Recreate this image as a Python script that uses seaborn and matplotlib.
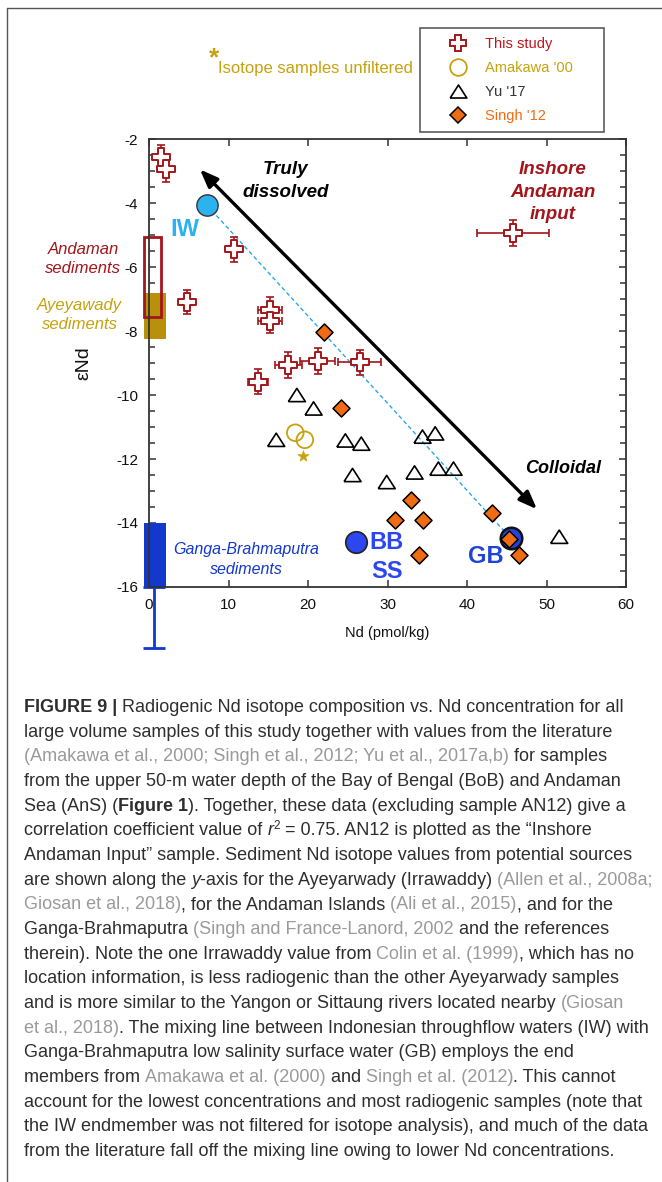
import numpy as np
import pandas as pd
import matplotlib
matplotlib.use("Agg")
import matplotlib.pyplot as plt
import seaborn as sns
from matplotlib.lines import Line2D
from matplotlib.patches import Rectangle
from matplotlib.ticker import MultipleLocator
from matplotlib.font_manager import FontProperties

# ---------------- data ----------------
# This study (large volume samples)
study_nd = [1.5, 2.1, 10.7, 4.8, 15.2, 15.2, 17.5, 21.2, 26.5, 13.7]
study_end = [-2.55, -2.95, -5.45, -7.1, -7.35, -7.68, -9.06, -8.93, -8.98, -9.58]
study_nd_err = [0.5, 0.5, 0.6, 0.5, 1.5, 1.5, 1.7, 2.2, 2.7, 1.25]
study_end_err = [0.35, 0.4, 0.4, 0.38, 0.4, 0.37, 0.4, 0.4, 0.4, 0.4]

# Inshore Andaman input (AN12)
inshore_nd = [45.8]
inshore_end = [-4.94]
inshore_nd_err = [4.5]
inshore_end_err = [0.4]

# Amakawa '00
amakawa_nd = [18.4, 19.6]
amakawa_end = [-11.18, -11.40]
unfiltered_nd = [19.4]
unfiltered_end = [-11.92]

# Yu '17
yu_nd = [18.6, 20.7, 16.0, 24.7, 26.7, 25.6, 29.9, 33.4, 34.4, 36.0, 36.4, 38.3, 51.6]
yu_end = [-10.0, -10.42, -11.4, -11.42, -11.52, -12.5, -12.72, -12.42, -11.3, -11.2, -12.3, -12.3, -14.43]

# Singh '12
singh_nd = [22.0, 24.2, 33.0, 31.0, 34.5, 43.1, 45.3, 46.5, 34.0]
singh_end = [-8.02, -10.4, -13.28, -13.9, -13.9, -13.7, -14.5, -15.0, -15.0]

# End members
endmember_names = ["IW", "BB SS", "GB"]
endmember_nd = [7.3, 26.0, 45.5]
endmember_end = [-4.07, -14.58, -14.48]

# Sediment eNd ranges along the y-axis
sediment_names = ["Andaman", "Ayeyawady", "Ganga-Brahmaputra"]
sediment_lo = [-7.55, -8.25, -16.0]
sediment_hi = [-5.05, -6.8, -14.0]
ganga_whisker_low = -17.9

x_ticks = [0, 10, 20, 30, 40, 50, 60]
y_ticks = [-16, -14, -12, -10, -8, -6, -4, -2]

# ---------------- style ----------------
sns.set_theme(style="ticks")
plt.rcParams["font.family"] = ["Liberation Sans", "DejaVu Sans"]
plt.rcParams["axes.unicode_minus"] = False

W, H = 662, 1182
fig = plt.figure(figsize=(W / 100, H / 100), dpi=100)
fig.patch.set_facecolor("white")
ax = fig.add_axes([149 / W, 1 - 587 / H, 477 / W, 448 / H])
ax.set_facecolor("white")

DARKRED = "#A3161B"
RED = "#C0141B"
GOLD = "#C7A20F"
GOLDFILL = "#B8900C"
ORANGE = "#EF6C12"
LIGHTBLUE = "#2DB2F0"
BLUE = "#2C46F0"
DEEPBLUE = "#1238CC"

# sediment boxes
ax.add_patch(Rectangle((-0.6, sediment_lo[1]), 2.7, sediment_hi[1] - sediment_lo[1],
                       facecolor=GOLDFILL, edgecolor="none", clip_on=False, zorder=1))
ax.add_patch(Rectangle((-0.6, sediment_lo[0]), 2.1, sediment_hi[0] - sediment_lo[0],
                       facecolor="none", edgecolor=DARKRED, lw=2.0, clip_on=False, zorder=1.2))
ax.add_patch(Rectangle((-0.6, sediment_lo[2]), 2.8, sediment_hi[2] - sediment_lo[2],
                       facecolor=DEEPBLUE, edgecolor="none", clip_on=False, zorder=1))
eb = ax.errorbar([0.6], [sediment_lo[2]], yerr=[[sediment_lo[2] - ganga_whisker_low], [0]],
                 fmt="none", ecolor=DEEPBLUE, elinewidth=2.0, capsize=8, capthick=2.0, zorder=1)
for art in list(eb.lines[1]) + list(eb.lines[2]):
    art.set_clip_on(False)

# arrow
ax.annotate("", xy=(48.8, -13.57), xytext=(6.4, -2.95),
            arrowprops=dict(arrowstyle="<|-|>,head_length=0.9,head_width=0.35",
                            lw=2.4, color="black", shrinkA=0, shrinkB=0), zorder=2)

# mixing line IW - GB
ax.plot([endmember_nd[0], endmember_nd[2]], [endmember_end[0], endmember_end[2]],
        color="#2BA8E8", lw=1.0, linestyle=(0, (3, 2)), zorder=1.5)

# error bars
ax.errorbar(study_nd, study_end, xerr=study_nd_err, yerr=study_end_err, fmt="none",
            ecolor=DARKRED, elinewidth=1.2, capsize=3, capthick=1.2, zorder=2)
ax.errorbar(inshore_nd, inshore_end, xerr=inshore_nd_err, yerr=inshore_end_err, fmt="none",
            ecolor=DARKRED, elinewidth=1.2, capsize=3, capthick=1.2, zorder=2)

tri = [(-1, -0.78), (1, -0.78), (0, 0.78), (-1, -0.78)]

sns.scatterplot(x=yu_nd, y=yu_end, marker=tri, s=150, facecolor="none",
                edgecolor="black", linewidth=1.2, ax=ax, zorder=3)
sns.scatterplot(x=amakawa_nd, y=amakawa_end, marker="o", s=144, facecolor="none",
                edgecolor=GOLD, linewidth=1.3, ax=ax, zorder=3)
sns.scatterplot(x=unfiltered_nd, y=unfiltered_end, marker="*", s=70, color=GOLD,
                edgecolor=GOLD, linewidth=0.5, ax=ax, zorder=3)
sns.scatterplot(x=endmember_nd[0:1], y=endmember_end[0:1], marker="o", s=235,
                color=LIGHTBLUE, edgecolor="#333333", linewidth=1.0, ax=ax, zorder=3)
sns.scatterplot(x=endmember_nd[1:2], y=endmember_end[1:2], marker="o", s=240,
                color=BLUE, edgecolor="#222222", linewidth=1.2, ax=ax, zorder=3)
sns.scatterplot(x=endmember_nd[2:3], y=endmember_end[2:3], marker="o", s=240,
                color="#2244DD", edgecolor="#111111", linewidth=1.8, ax=ax, zorder=3)
sns.scatterplot(x=singh_nd, y=singh_end, marker="D", s=75, color=ORANGE,
                edgecolor="black", linewidth=1.1, ax=ax, zorder=4)
sns.scatterplot(x=study_nd + inshore_nd, y=study_end + inshore_end, marker="P", s=150,
                color="white", edgecolor=DARKRED, linewidth=1.4, ax=ax, zorder=4)

# axes formatting
ax.set_xlim(0, 60)
ax.set_ylim(-16, -2)
ax.set_xticks(x_ticks)
ax.set_yticks(y_ticks)
ax.set_xticklabels([str(t) for t in x_ticks])
ax.set_yticklabels([str(t) for t in y_ticks])
ax.yaxis.set_minor_locator(MultipleLocator(0.5))
ax.tick_params(which="both", direction="in", top=True, right=True, color="#333333",
               width=1.1, labelsize=11, labelcolor="#111111")
ax.tick_params(which="major", length=5, pad=8)
ax.tick_params(which="minor", length=4)
for sp in ax.spines.values():
    sp.set_visible(True)
    sp.set_color("#333333")
    sp.set_linewidth(1.3)

ax.set_xlabel("Nd (pmol/kg)", fontsize=10.5, color="#111111")
ax.xaxis.set_label_coords(0.5, -0.086)
ax.set_ylabel("εNd", fontsize=14, color="#111111", va="center")
ax.yaxis.set_label_coords(-0.136, 0.5)

# annotations
ax.text(17.2, -3.32, "Truly\ndissolved", ha="center", va="center", fontsize=13.5,
        fontweight="bold", fontstyle="italic", color="black", linespacing=1.5)
ax.text(50.8, -3.66, "Inshore\nAndaman\ninput", ha="center", va="center", fontsize=13.5,
        fontweight="bold", fontstyle="italic", color=DARKRED, linespacing=1.45)
ax.text(52.1, -12.3, "Colloidal", ha="center", va="center", fontsize=13,
        fontweight="bold", fontstyle="italic", color="black")
ax.text(4.5, -4.84, "IW", ha="center", va="center", fontsize=17, fontweight="bold",
        color=LIGHTBLUE)
ax.text(29.9, -14.62, "BB", ha="center", va="center", fontsize=17, fontweight="bold",
        color=BLUE)
ax.text(29.9, -15.5, "SS", ha="center", va="center", fontsize=17, fontweight="bold",
        color=BLUE)
ax.text(42.4, -15.06, "GB", ha="center", va="center", fontsize=17, fontweight="bold",
        color="#1F44D6")
ax.text(-8.3, -5.75, "Andaman\nsediments", ha="center", va="center", fontsize=12,
        fontstyle="italic", color=DARKRED, clip_on=False, linespacing=1.35)
ax.text(-8.7, -7.5, "Ayeyawady\nsediments", ha="center", va="center", fontsize=12,
        fontstyle="italic", color=GOLD, clip_on=False, linespacing=1.35)
ax.text(12.2, -15.15, "Ganga-Brahmaputra\nsediments", ha="center", va="center", fontsize=11.5,
        fontstyle="italic", color=DEEPBLUE, linespacing=1.4)

# note above the plot
fig.text(214 / W, 1 - 58 / H, "*", fontsize=19, fontweight="bold", color=GOLD,
         ha="center", va="center")
fig.text(218 / W, 1 - 68 / H, "Isotope samples unfiltered", fontsize=12, color=GOLD,
         ha="left", va="center")

# legend
handles = [
    Line2D([], [], ls="none", marker="P", ms=12, mfc="white", mec=DARKRED, mew=1.4),
    Line2D([], [], ls="none", marker="o", ms=12, mfc="none", mec=GOLD, mew=1.3),
    Line2D([], [], ls="none", marker=tri, ms=12, mfc="none", mec="black", mew=1.2),
    Line2D([], [], ls="none", marker="D", ms=8.5, mfc=ORANGE, mec="black", mew=1.1),
]
labels = ["This study", "Amakawa '00", "Yu '17", "Singh '12"]
leg = fig.legend(handles, labels, loc="upper left",
                 bbox_to_anchor=(420 / W, 1 - 130 / H, 184 / W, 102 / H), mode="expand",
                 borderaxespad=0, frameon=True, fancybox=False, fontsize=10.5,
                 handlelength=4.0, handletextpad=-0.15, labelspacing=0.7, borderpad=0.6)
leg.get_frame().set_edgecolor("#333333")
leg.get_frame().set_linewidth(1.2)
for txt, c in zip(leg.get_texts(), [RED, GOLD, "#333333", ORANGE]):
    txt.set_color(c)

# outer frame (top and left edges)
fig.add_artist(Line2D([7 / W, 7 / W], [0, 1 - 8 / H], color="#555555", lw=1.0))
fig.add_artist(Line2D([7 / W, 1], [1 - 8 / H, 1 - 8 / H], color="#555555", lw=1.0))

# ---------------- caption ----------------
caption_lines = [
    [("FIGURE 9 | ", "b"), ("Radiogenic Nd isotope composition vs. Nd concentration for all", "n")],
    [("large volume samples of this study together with values from the literature", "n")],
    [("(Amakawa et al., 2000; Singh et al., 2012; Yu et al., 2017a,b)", "c"), (" for samples", "n")],
    [("from the upper 50-m water depth of the Bay of Bengal (BoB) and Andaman", "n")],
    [("Sea (AnS) (", "n"), ("Figure 1", "b"), ("). Together, these data (excluding sample AN12) give a", "n")],
    [("correlation coefficient value of ", "n"), ("r", "i"), ("2", "s"), (" = 0.75. AN12 is plotted as the \u201cInshore", "n")],
    [("Andaman Input\u201d sample. Sediment Nd isotope values from potential sources", "n")],
    [("are shown along the ", "n"), ("y", "i"), ("-axis for the Ayeyarwady (Irrawaddy) ", "n"), ("(Allen et al., 2008a;", "c")],
    [("Giosan et al., 2018)", "c"), (", for the Andaman Islands ", "n"), ("(Ali et al., 2015)", "c"), (", and for the", "n")],
    [("Ganga-Brahmaputra ", "n"), ("(Singh and France-Lanord, 2002", "c"), (" and the references", "n")],
    [("therein). Note the one Irrawaddy value from ", "n"), ("Colin et al. (1999)", "c"), (", which has no", "n")],
    [("location information, is less radiogenic than the other Ayeyarwady samples", "n")],
    [("and is more similar to the Yangon or Sittaung rivers located nearby ", "n"), ("(Giosan", "c")],
    [("et al., 2018)", "c"), (". The mixing line between Indonesian throughflow waters (IW) with", "n")],
    [("Ganga-Brahmaputra low salinity surface water (GB) employs the end", "n")],
    [("members from ", "n"), ("Amakawa et al. (2000)", "c"), (" and ", "n"), ("Singh et al. (2012)", "c"), (". This cannot", "n")],
    [("account for the lowest concentrations and most radiogenic samples (note that", "n")],
    [("the IW endmember was not filtered for isotope analysis), and much of the data", "n")],
    [("from the literature fall off the mixing line owing to lower Nd concentrations.", "n")],
]

CAP_FAMILY = ["Liberation Sans", "DejaVu Sans"]
TEXT_C = "#2e2e2e"
CITE_C = "#9a9a9a"
styles = {
    "n": dict(color=TEXT_C, weight="normal", style="normal", scale=1.0, rise=0),
    "c": dict(color=CITE_C, weight="normal", style="normal", scale=1.0, rise=0),
    "b": dict(color=TEXT_C, weight="bold", style="normal", scale=1.0, rise=0),
    "i": dict(color=TEXT_C, weight="normal", style="italic", scale=1.0, rise=0),
    "s": dict(color=TEXT_C, weight="normal", style="normal", scale=0.65, rise=6),
}

renderer = fig.canvas.get_renderer()


def make_prop(st, size):
    return FontProperties(family=CAP_FAMILY, weight=st["weight"], style=st["style"],
                          size=size * st["scale"])


def seg_width(txt, prop):
    w1 = renderer.get_text_width_height_descent("x" + txt + "x", prop, ismath=False)[0]
    w0 = renderer.get_text_width_height_descent("xx", prop, ismath=False)[0]
    return w1 - w0


def line_width(line, size):
    return sum(seg_width(t, make_prop(styles[k], size)) for t, k in line)


# fit the caption font size: first line ~621 px, no line wider than ~630 px
base = 10.0
w_first = line_width(caption_lines[0], base)
w_max = max(line_width(l, base) for l in caption_lines)
cap_size = base * min(621.0 / w_first, 630.0 / w_max)

x0_px = 24
y0_px = 712
dy_px = 24.67
for i, line in enumerate(caption_lines):
    x = x0_px
    yb = y0_px + i * dy_px
    for txt, k in line:
        st = styles[k]
        prop = make_prop(st, cap_size)
        fig.text(x / W, 1 - (yb - st["rise"]) / H, txt, fontproperties=prop, color=st["color"],
                 ha="left", va="baseline")
        x += seg_width(txt, prop)

fig.savefig("out.png", dpi=100, facecolor="white")
